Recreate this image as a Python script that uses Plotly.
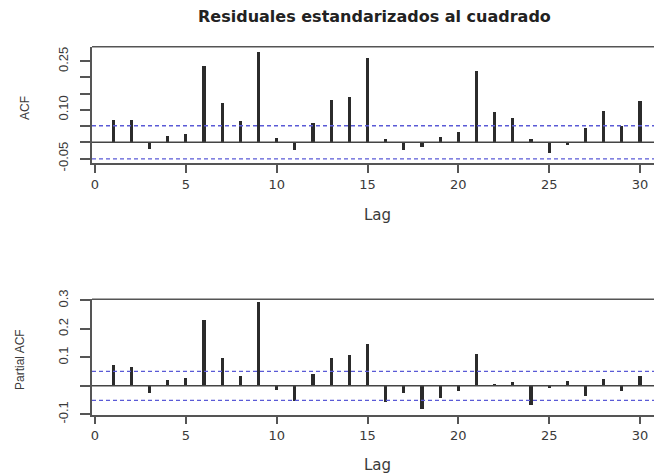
import plotly.graph_objects as go

W, H = 654, 475

lags = list(range(1, 31))
acf_vals = [0.071, 0.069, -0.019, 0.020, 0.026, 0.236, 0.123, 0.066, 0.280, 0.015,
            -0.022, 0.059, 0.133, 0.141, 0.262, 0.011, -0.024, -0.015, 0.016, 0.033,
            0.220, 0.093, 0.077, 0.012, -0.032, -0.008, 0.045, 0.096, 0.050, 0.129]
pacf_vals = [0.071, 0.064, -0.026, 0.020, 0.028, 0.229, 0.097, 0.032, 0.294, -0.014,
             -0.056, 0.042, 0.096, 0.108, 0.145, -0.058, -0.026, -0.084, -0.043, -0.018,
             0.112, 0.003, 0.012, -0.070, -0.009, 0.016, -0.035, 0.023, -0.018, 0.032]
ci = 0.051

x_ticks = [0, 5, 10, 15, 20, 25, 30]
acf_ticks = [-0.05, 0.0, 0.05, 0.10, 0.15, 0.20, 0.25]
acf_ticktext = ["-0.05", "", "", "0.10", "", "", "0.25"]
pacf_ticks = [-0.1, 0.0, 0.1, 0.2, 0.3]
pacf_ticktext = ["-0.1", "", "0.1", "0.2", "0.3"]

title = "Residuales estandarizados al cuadrado"
xlabel = "Lag"
ylabel_top = "ACF"
ylabel_bottom = "Partial ACF"

FONT = "Liberation Sans, Arial, sans-serif"
WFONT = "DejaVu Sans, sans-serif"
TXT = "#3a3a3a"
AX = "#555555"
BAR = "#2b2b2b"

def px(v):
    return v / W

def py(v):
    return (H - v) / H

fig = go.Figure()
fig.add_trace(go.Bar(x=lags, y=acf_vals, width=0.17, marker=dict(color=BAR, line=dict(width=0)),
                     xaxis="x", yaxis="y", showlegend=False))
fig.add_trace(go.Bar(x=lags, y=pacf_vals, width=0.17, marker=dict(color=BAR, line=dict(width=0)),
                     xaxis="x2", yaxis="y2", showlegend=False))

xdom = [px(92), 1.0]
xr = [-0.165, 30.77]

common_x = dict(range=xr, domain=xdom, tickvals=x_ticks, ticktext=[str(t) for t in x_ticks],
                showline=True, linecolor=AX, linewidth=1.5, ticks="outside", ticklen=8,
                tickcolor=AX, tickwidth=1.5, showgrid=False, zeroline=False, automargin=False,
                tickfont=dict(family=WFONT, size=13, color=TXT))
common_y = dict(showline=True, linecolor=AX, linewidth=1.5, ticks="outside", ticklen=10,
                tickcolor=AX, tickwidth=1.5, showgrid=False, zeroline=False, tickangle=-90,
                ticklabelstandoff=7, automargin=False,
                tickfont=dict(family=FONT, size=13, color=TXT))

fig.update_layout(
    template="none",
    width=W, height=H, margin=dict(l=0, r=0, t=0, b=0),
    paper_bgcolor="white", plot_bgcolor="white", bargap=0,
    xaxis=dict(anchor="y", **common_x),
    yaxis=dict(anchor="x", domain=[py(163.3), py(46.7)], range=[-0.0648, 0.295],
               tickvals=acf_ticks, ticktext=acf_ticktext, **common_y),
    xaxis2=dict(anchor="y2", **common_x),
    yaxis2=dict(anchor="x2", domain=[py(414.5), py(299.3)], range=[-0.1007, 0.304],
                tickvals=pacf_ticks, ticktext=pacf_ticktext, **common_y),
)

shapes = []
for xa, ya in (("x", "y"), ("x2", "y2")):
    shapes.append(dict(type="line", xref=xa + " domain", yref=ya, x0=0, x1=1, y0=0, y1=0,
                       line=dict(color="#444444", width=1.5)))
    for c in (ci, -ci):
        shapes.append(dict(type="line", xref=xa + " domain", yref=ya, x0=0, x1=1, y0=c, y1=c,
                           line=dict(color="#5a5ad6", width=1.3, dash="4px,3px")))
    shapes.append(dict(type="line", xref=xa + " domain", yref=ya + " domain", x0=0, x1=1, y0=1, y1=1,
                       line=dict(color=AX, width=1.5)))
fig.update_layout(shapes=shapes)

fig.add_annotation(text="<b>" + title + "</b>", xref="paper", yref="paper",
                   x=px(374), y=py(17), xanchor="center", yanchor="middle", showarrow=False,
                   font=dict(family=WFONT, size=16, color="#222222"))
for yc in (215, 465):
    fig.add_annotation(text=xlabel, xref="paper", yref="paper", x=px(377), y=py(yc),
                       xanchor="center", yanchor="middle", showarrow=False,
                       font=dict(family=WFONT, size=15, color=TXT))
fig.add_annotation(text=ylabel_top, xref="paper", yref="paper", x=px(25), y=py(108),
                   xanchor="center", yanchor="middle", showarrow=False, textangle=-90,
                   font=dict(family=FONT, size=12, color=TXT))
fig.add_annotation(text=ylabel_bottom, xref="paper", yref="paper", x=px(20), y=py(360),
                   xanchor="center", yanchor="middle", showarrow=False, textangle=-90,
                   font=dict(family=FONT, size=12, color=TXT))

fig.write_html("out.html")
